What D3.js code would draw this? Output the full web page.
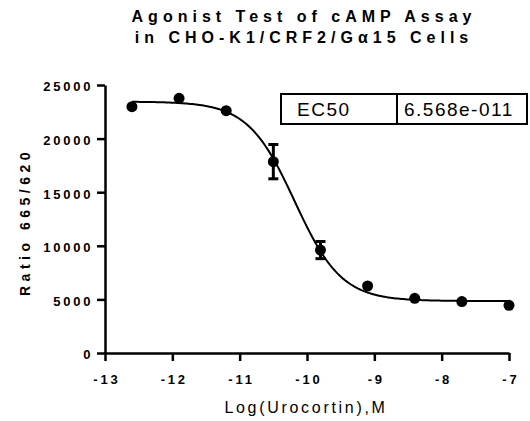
<!DOCTYPE html>
<html>
<head>
<meta charset="utf-8">
<script src="https://cdn.jsdelivr.net/npm/d3@7"></script>
<style>
  body { margin: 0; background: #fff; }
  text { font-family: Arial, "Liberation Sans", sans-serif; fill: #000; }
</style>
</head>
<body>
<div id="chart"></div>
<script>
// data
var logDose = [-12.6, -11.9, -11.2, -10.5, -9.8, -9.1, -8.4, -7.7, -7.0];
var ratio = [22980, 23760, 22600, 17850, 9600, 6250, 5100, 4800, 4450];
var sem = [0, 0, 0, 1600, 800, 0, 0, 0, 0];
var xTicks = [-13, -12, -11, -10, -9, -8, -7];
var yTicks = [0, 5000, 10000, 15000, 20000, 25000];
// fitted curve parameters
var fitTop = 23450, fitBottom = 4850, logEC50 = Math.log10(6.568e-11), hill = 1.25;
var ec50Label = "6.568e-011";

var width = 530, height = 421;
var margin = { top: 85, right: 21, bottom: 68, left: 105 };
var w = width - margin.left - margin.right;
var h = height - margin.top - margin.bottom;

var svg = d3.select("#chart").append("svg")
  .attr("width", width)
  .attr("height", height);

var x = d3.scaleLinear().domain([-13, -7]).range([0, w]);
var y = d3.scaleLinear().domain([0, 25000]).range([h, 0]);

var g = svg.append("g")
  .attr("transform", "translate(" + margin.left + "," + margin.top + ")");

// title
var title = svg.append("text")
  .attr("text-anchor", "middle")
  .attr("font-weight", "bold")
  .style("font-size", "16px")
  .style("letter-spacing", "5px");
title.append("tspan").attr("x", 304).attr("y", 22).text("Agonist Test of cAMP Assay");
title.append("tspan").attr("x", 304).attr("y", 43).text("in CHO-K1/CRF2/G\u03b115 Cells");

// axes
var xAxis = d3.axisBottom(x).tickValues(xTicks).tickSize(8).tickSizeOuter(0)
  .tickFormat(function(d) { return "-" + Math.abs(d); });
var yAxis = d3.axisLeft(y).tickValues(yTicks).tickSize(8).tickSizeOuter(0)
  .tickFormat(d3.format("d"));

var gx = g.append("g")
  .attr("transform", "translate(0," + h + ")")
  .call(xAxis);
var gy = g.append("g").call(yAxis);

[gx, gy].forEach(function(a) {
  a.attr("font-family", null).attr("font-size", null);
  a.select(".domain").attr("stroke", "#000").attr("stroke-width", 2.5);
  a.selectAll(".tick line").attr("stroke", "#000").attr("stroke-width", 2.5);
  a.selectAll(".tick text")
    .attr("font-weight", "bold")
    .style("font-size", "13px")
    .style("letter-spacing", "2.8px")
    .attr("fill", "#000");
});
gx.selectAll(".tick text").attr("y", 22).attr("dy", "0.71em").attr("dx", "1.4px");
gy.selectAll(".tick text").attr("x", -14.5).attr("dx", "2.8px").attr("dy", "0.45em");

// axis titles
svg.append("text")
  .attr("transform", "translate(30,224) rotate(-90)")
  .attr("text-anchor", "middle")
  .attr("font-weight", "bold")
  .style("font-size", "14px")
  .style("letter-spacing", "4.5px")
  .attr("dx", "2px")
  .text("Ratio 665/620");

svg.append("text")
  .attr("x", 306)
  .attr("y", 413)
  .attr("text-anchor", "middle")
  .style("font-size", "16px")
  .style("letter-spacing", "2.7px")
  .text("Log(Urocortin),M");

// fitted curve
var curveX = d3.range(0, 201).map(function(i) {
  return logDose[0] + (logDose[logDose.length - 1] - logDose[0]) * i / 200;
});
function fit(v) {
  return fitBottom + (fitTop - fitBottom) / (1 + Math.pow(10, (v - logEC50) * hill));
}
g.append("path")
  .datum(curveX)
  .attr("fill", "none")
  .attr("stroke", "#000")
  .attr("stroke-width", 2)
  .attr("d", d3.line()
    .x(function(d) { return x(d); })
    .y(function(d) { return y(fit(d)); }));

// error bars
var pts = logDose.map(function(d, i) { return { x: d, y: ratio[i], e: sem[i] }; });
var eb = g.selectAll(".err").data(pts.filter(function(d) { return d.e > 0; }))
  .enter().append("g").attr("class", "err");
eb.append("line")
  .attr("x1", function(d) { return x(d.x); })
  .attr("x2", function(d) { return x(d.x); })
  .attr("y1", function(d) { return y(d.y + d.e); })
  .attr("y2", function(d) { return y(d.y - d.e); })
  .attr("stroke", "#000").attr("stroke-width", 3);
eb.selectAll(".cap")
  .data(function(d) { return [d.y + d.e, d.y - d.e].map(function(v) { return { x: d.x, v: v }; }); })
  .enter().append("line")
  .attr("x1", function(d) { return x(d.x) - 5; })
  .attr("x2", function(d) { return x(d.x) + 5; })
  .attr("y1", function(d) { return y(d.v); })
  .attr("y2", function(d) { return y(d.v); })
  .attr("stroke", "#000").attr("stroke-width", 3);

// points
g.selectAll("circle").data(pts).enter().append("circle")
  .attr("cx", function(d) { return x(d.x); })
  .attr("cy", function(d) { return y(d.y); })
  .attr("r", 5.5)
  .attr("fill", "#000");

// EC50 box
var box = svg.append("g").attr("transform", "translate(281,94)");
box.append("rect").attr("width", 246).attr("height", 30)
  .attr("fill", "#fff").attr("stroke", "#000").attr("stroke-width", 2);
box.append("line").attr("x1", 116).attr("x2", 116).attr("y1", 0).attr("y2", 30)
  .attr("stroke", "#000").attr("stroke-width", 2);
box.append("text").attr("x", 16).attr("y", 22).style("font-size", "19px").style("letter-spacing", "1.5px").text("EC50");
box.append("text").attr("x", 123).attr("y", 22).style("font-size", "19px").style("letter-spacing", "1.5px").text(ec50Label);
</script>
</body>
</html>
